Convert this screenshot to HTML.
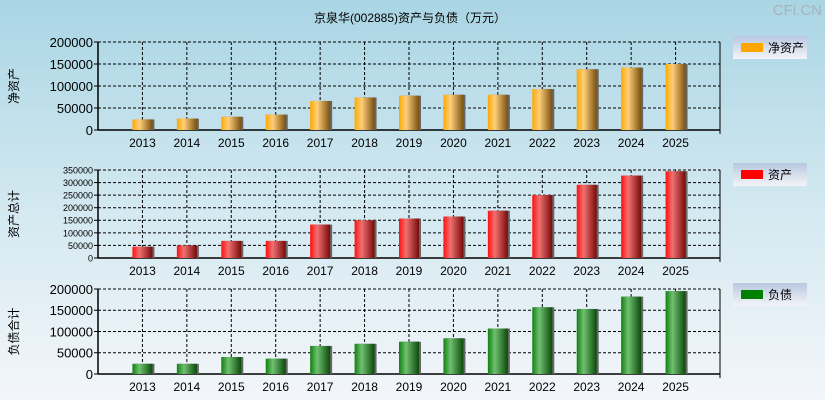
<!DOCTYPE html>
<html><head><meta charset="utf-8">
<style>
html,body{margin:0;padding:0;}
body{width:825px;height:400px;overflow:hidden;font-family:"Liberation Sans","Noto Sans CJK SC",sans-serif;}
</style></head>
<body>
<svg id="chart" width="825" height="400" xmlns="http://www.w3.org/2000/svg" font-family="Liberation Sans, Noto Sans CJK SC, sans-serif">
<defs>
<linearGradient id="bg" x1="0" y1="0" x2="0" y2="1"><stop offset="0" stop-color="#a9d5e4"/><stop offset="0.5" stop-color="#d2e8f0"/><stop offset="1" stop-color="#f3f6fa"/></linearGradient>
<linearGradient id="gOrange" x1="0" x2="1"><stop offset="0" stop-color="#ffa800"/><stop offset="0.35" stop-color="#ffcf7a"/><stop offset="1" stop-color="#7a5010"/></linearGradient>
<linearGradient id="gRed" x1="0" x2="1"><stop offset="0" stop-color="#ff1010"/><stop offset="0.35" stop-color="#f07070"/><stop offset="1" stop-color="#780a0a"/></linearGradient>
<linearGradient id="gGreen" x1="0" x2="1"><stop offset="0" stop-color="#108010"/><stop offset="0.35" stop-color="#70c070"/><stop offset="1" stop-color="#0a4a0a"/></linearGradient>
<linearGradient id="gLeg" x1="0" y1="0" x2="0" y2="1"><stop offset="0" stop-color="#b8c8e0"/><stop offset="1" stop-color="#f4f4f8"/></linearGradient>
</defs>
<rect x="0" y="0" width="825" height="400" fill="url(#bg)"/>
<text x="410" y="22" font-size="12" text-anchor="middle" fill="#000">京泉华(002885)资产与负债（万元）</text>
<text x="822" y="15" font-size="15" text-anchor="end" fill="#a8b4bc">CFi.CN</text>
<g id="panels"></g>
</svg>
<script>
const years = ['2013','2014','2015','2016','2017','2018','2019','2020','2021','2022','2023','2024','2025'];
const netAssets = [24000,26000,30000,35000,66000,74000,78000,80000,80000,93000,138000,142000,150000];
const totalAssets = [45000,50000,68000,68000,133000,150000,157000,165000,188000,250000,291000,328000,345000];
const liabilities = [24000,24000,40000,36000,66000,71000,76000,84000,107000,157000,153000,182000,195000];
const ticksTop = [0,50000,100000,150000,200000];
const ticksMid = [0,50000,100000,150000,200000,250000,300000,350000];
const ticksBot = [0,50000,100000,150000,200000];

const NS='http://www.w3.org/2000/svg';
const root=document.getElementById('panels');
function mk(tag,attrs,parent){const e=document.createElementNS(NS,tag);for(const k in attrs)e.setAttribute(k,attrs[k]);(parent||root).appendChild(e);return e;}

const left=98,right=720,slot=(right-left)/14;
function xPos(i){return left+slot*(i+1);}

function panel(key,top,bottom,vals,ticks,fill,ytitle,legName,legColor,legY,tickFont){
  const g=mk('g',{});
  
  
  const max=ticks[ticks.length-1];
  const y=v=>bottom-(v/max)*(bottom-top);
  ticks.forEach(t=>{
    const l=mk('line',{x1:left,x2:right,y1:y(t),y2:y(t),stroke:'#000','stroke-width':1,'stroke-dasharray':t===0?'':'3,2'},g);
    
    
    const tx=mk('text',{x:left-5,y:y(t)+tickFont*0.38,'font-size':tickFont,'text-anchor':'end',fill:'#000'},g);
    tx.textContent=t;
    
    
    mk('line',{x1:left-4,x2:left,y1:y(t),y2:y(t),stroke:'#000'},g);
  });
  years.forEach((yr,i)=>{
    const x=xPos(i);
    const l=mk('line',{x1:x,x2:x,y1:top,y2:bottom,stroke:'#000','stroke-dasharray':'3,2'},g);
    
    
    const tx=mk('text',{x:x,y:bottom+17,'font-size':12,'text-anchor':'middle',fill:'#000'},g);
    tx.textContent=yr;
    
    
  });
  mk('line',{x1:right,x2:right,y1:top,y2:bottom+4,stroke:'#000'},g);
  mk('line',{x1:left,x2:left,y1:top,y2:bottom,stroke:'#000','stroke-width':1.5},g);
  mk('line',{x1:left,x2:right,y1:bottom,y2:bottom,stroke:'#000','stroke-width':1.5},g);
  vals.forEach((v,i)=>{
    const x=xPos(i);
    const sh=mk('rect',{x:x-10+2,y:y(v),width:20,height:bottom-y(v),fill:'#666'},g);
    
    
    const b=mk('rect',{x:x-10,y:y(v),width:20,height:bottom-y(v),fill:fill},g);
    
    
  });
  const cy=(top+bottom)/2;
  const t=mk('text',{x:18,y:cy,'font-size':12,'text-anchor':'middle',transform:'rotate(-90 18 '+cy+')',fill:'#000'},g);
  t.textContent=ytitle;
  
  
  const lg=mk('g',{},g);
  
  
  mk('rect',{x:733,y:legY,width:74,height:23,fill:'url(#gLeg)'},lg);
  mk('rect',{x:741,y:legY+7,width:22,height:9,fill:legColor},lg);
  const lt=mk('text',{x:768,y:legY+16,'font-size':12,fill:'#000'},lg);
  lt.textContent=legName;
}
panel('net-assets',42,130,netAssets,ticksTop,'url(#gOrange)','净资产','净资产','#ffa500',36,13);
panel('total-assets',170,258,totalAssets,ticksMid,'url(#gRed)','资产总计','资产','#ff0000',163,9);
panel('liabilities',289,374,liabilities,ticksBot,'url(#gGreen)','负债合计','负债','#008000',283,13);
</script>
</body></html>
